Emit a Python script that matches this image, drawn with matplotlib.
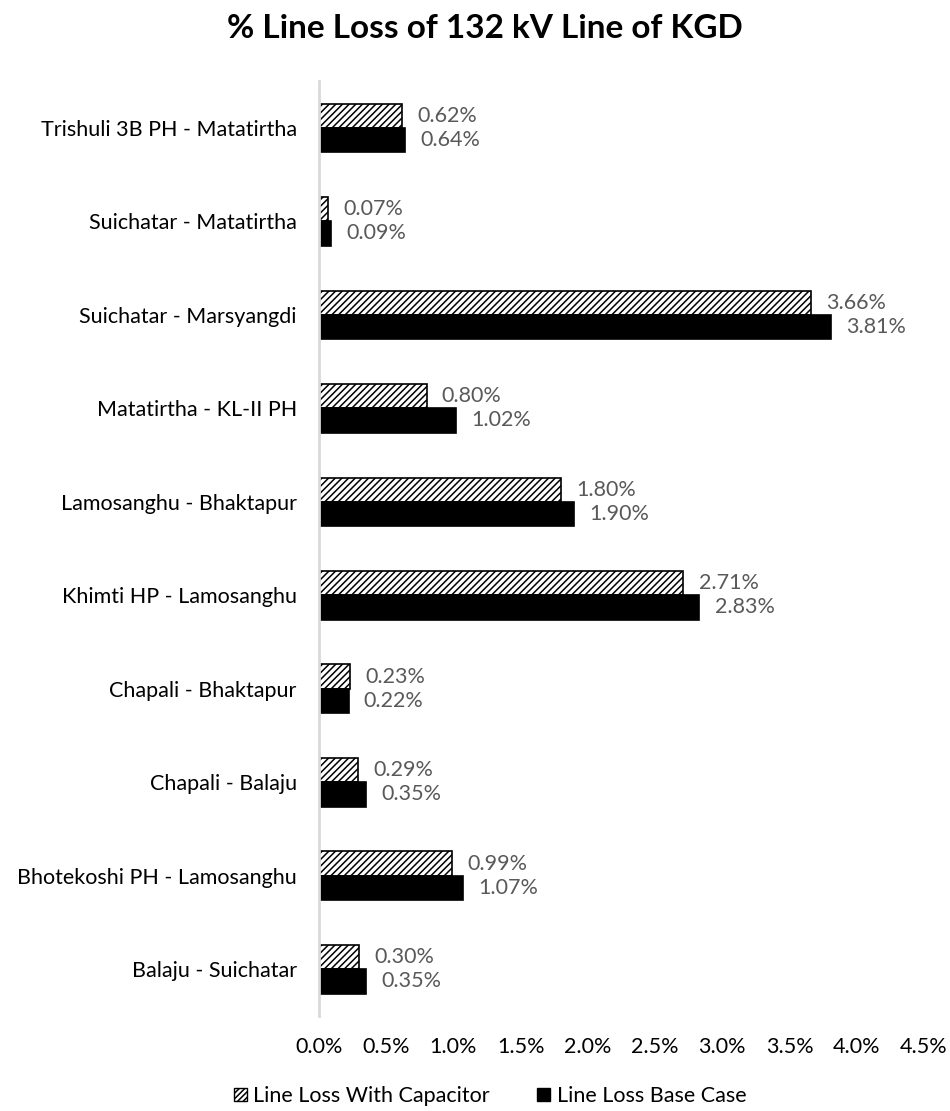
#!/usr/bin/env python3

# imports
import numpy as np
import matplotlib
matplotlib.use('Agg')
import matplotlib.pyplot as plt
from matplotlib.patches import Patch
from matplotlib.ticker import FuncFormatter

plt.rcParams['font.family'] = ['Lato', 'DejaVu Sans']
plt.rcParams['hatch.linewidth'] = 1.1

# data (bottom to top, as in the chart)
lines = ['Balaju - Suichatar', 'Bhotekoshi PH - Lamosanghu', 'Chapali - Balaju',
         'Chapali - Bhaktapur', 'Khimti HP - Lamosanghu', 'Lamosanghu - Bhaktapur',
         'Matatirtha - KL-II PH', 'Suichatar - Marsyangdi', 'Suichatar - Matatirtha',
         'Trishuli 3B PH - Matatirtha']
with_capacitor = [0.30, 0.99, 0.29, 0.23, 2.71, 1.80, 0.80, 3.66, 0.07, 0.62]
base_case = [0.35, 1.07, 0.35, 0.22, 2.83, 1.90, 1.02, 3.81, 0.09, 0.64]
series_names = ['Line Loss With Capacitor', 'Line Loss Base Case']
x_ticks = [0.0, 0.5, 1.0, 1.5, 2.0, 2.5, 3.0, 3.5, 4.0, 4.5]

fig = plt.figure(figsize=(9.5, 11.11), dpi=100)
ax = fig.add_axes([0.3358, 0.0855, 0.6368, 0.8415])

y = np.arange(len(lines))
h = 0.26
label_color = '#595959'
fs = 15.5

b1 = ax.barh(y + h/2, with_capacitor, height=h, color='white', edgecolor='black',
             hatch='/////', linewidth=1.2)
b2 = ax.barh(y - h/2, base_case, height=h, color='black', edgecolor='black', linewidth=1.2)

ax.bar_label(b1, labels=['%.2f%%' % v for v in with_capacitor], padding=11,
             fontsize=fs, color=label_color)
ax.bar_label(b2, labels=['%.2f%%' % v for v in base_case], padding=11,
             fontsize=fs, color=label_color)

ax.set_ylim(-0.5, len(lines) - 0.5)
ax.set_yticks(y)
ax.set_yticklabels(lines, fontsize=fs, color='black')
ax.set_xlim(0, 4.5)
ax.set_xticks(x_ticks)
ax.xaxis.set_major_formatter(FuncFormatter(lambda v, p: '%.1f%%' % v))
ax.tick_params(axis='x', length=0, pad=15, labelsize=fs, labelcolor='black')
ax.tick_params(axis='y', length=0, pad=16)

for s in ['top', 'right', 'bottom']:
    ax.spines[s].set_visible(False)
ax.spines['left'].set_color('#d9d9d9')
ax.spines['left'].set_linewidth(2)

fig.text(0.5105, 1 - 38/1111, '% Line Loss of 132 kV Line of KGD', ha='center', va='baseline',
         fontsize=24, fontweight='bold')

handles = [Patch(facecolor='white', edgecolor='black', hatch='//////', label=series_names[0]),
           Patch(facecolor='black', edgecolor='black', label=series_names[1])]
fig.legend(handles=handles, loc='center', bbox_to_anchor=(0.516, 0.0135), ncol=2,
           frameon=False, fontsize=fs, handlelength=0.6, handleheight=0.6,
           handletextpad=0.3, columnspacing=2.2, borderpad=0)

plt.savefig('out.png')
